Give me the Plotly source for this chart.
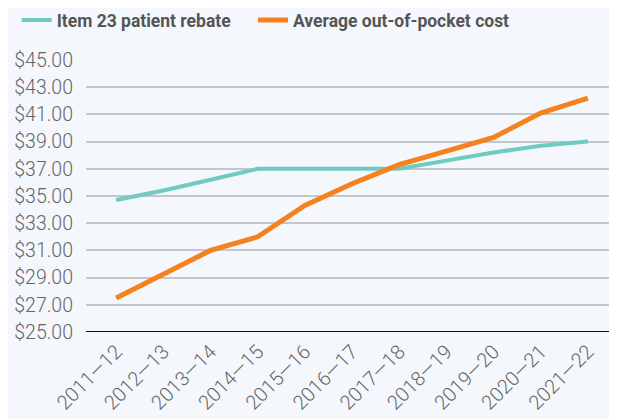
import plotly.graph_objects as go

categories = ["2011—12", "2012—13", "2013—14", "2014—15", "2015—16", "2016—17",
              "2017—18", "2018—19", "2019—20", "2020—21", "2021—22"]
rebate = [34.7, 35.4, 36.2, 37.0, 37.0, 37.0, 37.0, 37.6, 38.2, 38.7, 39.0]
oop_cost = [27.5, 29.3, 31.0, 32.0, 34.3, 35.9, 37.3, 38.3, 39.3, 41.1, 42.2]
y_ticks = [25, 27, 29, 31, 33, 35, 37, 39, 41, 43, 45]
y_tick_text = [f"${v:.2f}" for v in y_ticks]
series_names = ["Item 23 patient rebate", "Average out-of-pocket cost"]

fig = go.Figure()
fig.add_trace(go.Scatter(x=categories, y=rebate, mode="lines",
                         name=series_names[0] + "\u00a0" * 4,
                         line=dict(color="#6fcbc1", width=4)))
fig.add_trace(go.Scatter(x=categories, y=oop_cost, mode="lines", name=series_names[1],
                         line=dict(color="#f5821f", width=5)))

fig.update_layout(
    width=617, height=419,
    margin=dict(l=78, r=14, t=52, b=95),
    paper_bgcolor="#f4f8fc", plot_bgcolor="rgba(0,0,0,0)",
    font=dict(family="Roboto", color="#555555"),
    showlegend=True,
    legend=dict(orientation="h", xref="container", yref="container", x=0.014, y=0.971,
                xanchor="left", yanchor="middle",
                font=dict(size=17.5, color="#555555", weight="bold", family="Roboto"),
                bgcolor="rgba(0,0,0,0)", itemwidth=30, tracegroupgap=0),
    xaxis=dict(type="category", range=[-0.64, 10.49], showgrid=False, zeroline=False,
               tickangle=-45, tickfont=dict(size=20, color="#666666", weight=300),
               showline=False, ticks="", automargin=False, ticklabelstandoff=3),
    yaxis=dict(range=[25, 45], tickvals=y_ticks, ticktext=y_tick_text,
               showgrid=True, gridcolor="#c4c6c9", gridwidth=1.5, zeroline=False,
               tickfont=dict(size=19.5, color="#666666", weight=300), ticks="",
               ticklabelstandoff=12, showline=False, automargin=False),
)
fig.add_hline(y=25, line=dict(color="#111111", width=2))
fig.write_html("out.html")
